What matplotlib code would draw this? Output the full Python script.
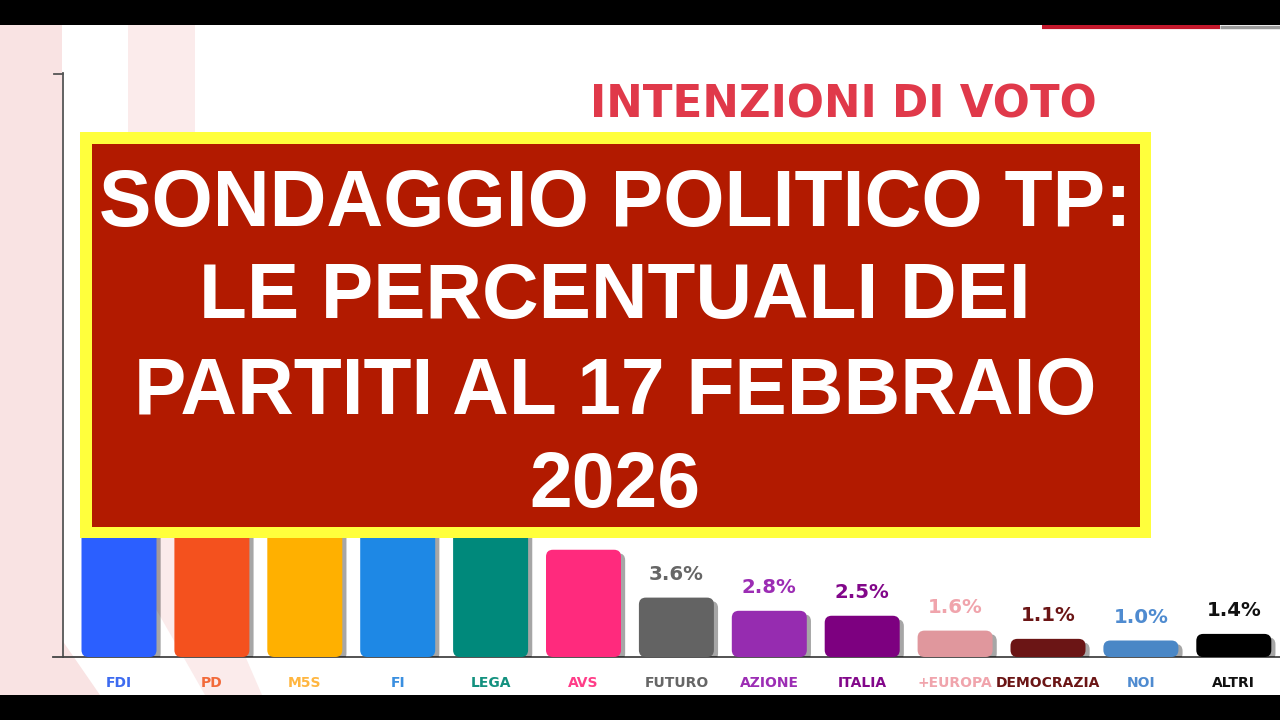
import matplotlib
matplotlib.use("Agg")
import matplotlib.pyplot as plt
from matplotlib.patches import FancyBboxPatch, Rectangle, Polygon
from matplotlib.font_manager import FontProperties, fontManager
import matplotlib.patheffects as pe

# ---------------- data ----------------
parties = ["FDI", "PD", "M5S", "FI", "LEGA", "AVS", "FUTURO", "AZIONE",
           "ITALIA", "+EUROPA", "DEMOCRAZIA", "NOI", "ALTRI"]
values = [29.6, 22.2, 12.4, 8.3, 8.0, 6.5, 3.6, 2.8, 2.5, 1.6, 1.1, 1.0, 1.4]
bar_colors = ["#2B5FFF", "#F4511E", "#FFB000", "#1E88E5", "#00897B", "#FF2A7D",
              "#636363", "#962CB0", "#7D0080", "#E0979D", "#6B1515", "#4A87C6",
              "#000000"]
label_colors = ["#3D6BF0", "#F26A3A", "#FFB640", "#3A8FE0", "#13917F", "#FF3D88",
                "#666666", "#9C2DB4", "#82078A", "#F0A4AC", "#6B1515", "#4F8BD0",
                "#111111"]
title_text = "INTENZIONI DI VOTO"
box_lines = ["SONDAGGIO POLITICO TP:", "LE PERCENTUALI DEI",
             "PARTITI AL 17 FEBBRAIO", "2026"]

# pick the regular-width Liberation Sans Bold file explicitly
box_font = None
for f in fontManager.ttflist:
    if f.fname.endswith("LiberationSans-Bold.ttf"):
        box_font = FontProperties(fname=f.fname)
        break
if box_font is None:
    box_font = FontProperties(family="DejaVu Sans", weight="bold")

W, H = 1280, 720
fig = plt.figure(figsize=(12.8, 7.2), dpi=100)
fig.patch.set_facecolor("white")

# ---------- background decoration layer (pixel coords) ----------
bg = fig.add_axes([0, 0, 1, 1], zorder=0)
bg.set_xlim(0, W)
bg.set_ylim(H, 0)
bg.axis("off")
pink = "#F9E3E3"
bg.add_patch(Rectangle((0, 25), 62, 670, color=pink, lw=0))
bg.add_patch(Polygon([(128, 25), (195, 25), (195, 540), (262, 695), (205, 695), (128, 560)],
                     closed=True, color="#FBEBEB", lw=0))
bg.add_patch(Polygon([(62, 640), (62, 695), (100, 695)], closed=True, color=pink, lw=0))
# small axis details
bg.plot([54, 63], [73.5, 73.5], color="#555555", lw=1.3)
bg.plot([53, 63], [657, 657], color="#444444", lw=1.3)
# red line top right
bg.plot([1042, 1220], [26.5, 26.5], color="#C4182C", lw=3, solid_capstyle="butt")
bg.plot([1220, 1280], [26.5, 26.5], color="#9A9A9A", lw=2.5, solid_capstyle="butt")

# title
t = bg.text(590, 117, title_text, color="#E0394A", fontsize=30,
            fontfamily="DejaVu Sans", fontweight="bold", ha="left", va="baseline")

# ---------------- chart axes ----------------
spacing = 92.9
x0 = 119.0
left_px, top_px, base_px = 63, 73, 657
px_per_pct = 16.5
ax = fig.add_axes([left_px / W, (H - base_px) / H, (W - left_px) / W, (base_px - top_px) / H],
                  zorder=5)
ax.patch.set_alpha(0)
ax.set_xlim((left_px - x0) / spacing, (W - x0) / spacing)
ax.set_ylim(0, (base_px - top_px) / px_per_pct)

xs = list(range(len(parties)))
bw = 75 / spacing
bars = ax.bar(xs, values, width=bw, color=bar_colors)
aspect = spacing / px_per_pct
for b, c in zip(bars, bar_colors):
    b.set_visible(False)
    fb = FancyBboxPatch((b.get_x(), b.get_y()), b.get_width(), b.get_height(),
                        boxstyle="round,pad=0,rounding_size=0.075",
                        mutation_aspect=aspect, facecolor=c, edgecolor="none",
                        zorder=3)
    fb.set_path_effects([pe.SimplePatchShadow(offset=(3, -2.5), shadow_rgbFace="black",
                                              alpha=0.35), pe.Normal()])
    ax.add_patch(fb)

annots = []
for x, v, c in zip(xs, values, label_colors):
    annots.append(ax.annotate(f"{v:.1f}%", (x, v), xytext=(0, 10), textcoords="offset points",
                              ha="center", va="bottom", fontsize=14.2, fontweight="bold",
                              fontfamily="DejaVu Sans", color=c, zorder=4))

ax.set_xticks(xs)
ax.set_xticklabels(parties, fontsize=10, fontweight="bold", fontfamily="DejaVu Sans")
for lab, c in zip(ax.get_xticklabels(), label_colors):
    lab.set_color(c)
ax.tick_params(axis="x", length=0, pad=14)
ax.set_yticks([])
for s in ["top", "right"]:
    ax.spines[s].set_visible(False)
ax.spines["left"].set_color("#555555")
ax.spines["left"].set_linewidth(1.3)
ax.spines["bottom"].set_color("#444444")
ax.spines["bottom"].set_linewidth(1.3)

# ---------------- overlay box ----------------
ov = fig.add_axes([0, 0, 1, 1], zorder=10)
ov.set_xlim(0, W)
ov.set_ylim(H, 0)
ov.axis("off")
ov.patch.set_alpha(0)
# black bands
ov.add_patch(Rectangle((0, 0), W, 25, color="black", lw=0))
ov.add_patch(Rectangle((0, 695), W, 25, color="black", lw=0))
box = Rectangle((80, 132), 1071, 406, color="#FFFF3C", lw=0)
ov.add_patch(box)
ov.add_patch(Rectangle((91.5, 143.5), 1048, 383.5, color="#B21A00", lw=0))

baselines = [226, 318, 414, 507]
targets = [1032, 832, 963, 171]
texts = []
for line, yb in zip(box_lines, baselines):
    fp = box_font.copy()
    fp.set_size(56)
    texts.append(ov.text(615, yb, line, color="white", fontproperties=fp,
                         ha="center", va="baseline"))

# fit widths to the reference
fig.canvas.draw()
r = fig.canvas.get_renderer()
for tx, tw in zip(texts, targets):
    w = tx.get_window_extent(r).width
    tx.set_fontsize(tx.get_fontsize() * tw / w)
w = t.get_window_extent(r).width
t.set_fontsize(t.get_fontsize() * 508 / w)

# value labels that sit under the opaque box are not visible in the reference
box_ext = box.get_window_extent(r)
for a in annots:
    e = a.get_window_extent(r)
    if e.overlaps(box_ext):
        a.set_visible(False)

fig.savefig("out.png", dpi=100, facecolor="white")
